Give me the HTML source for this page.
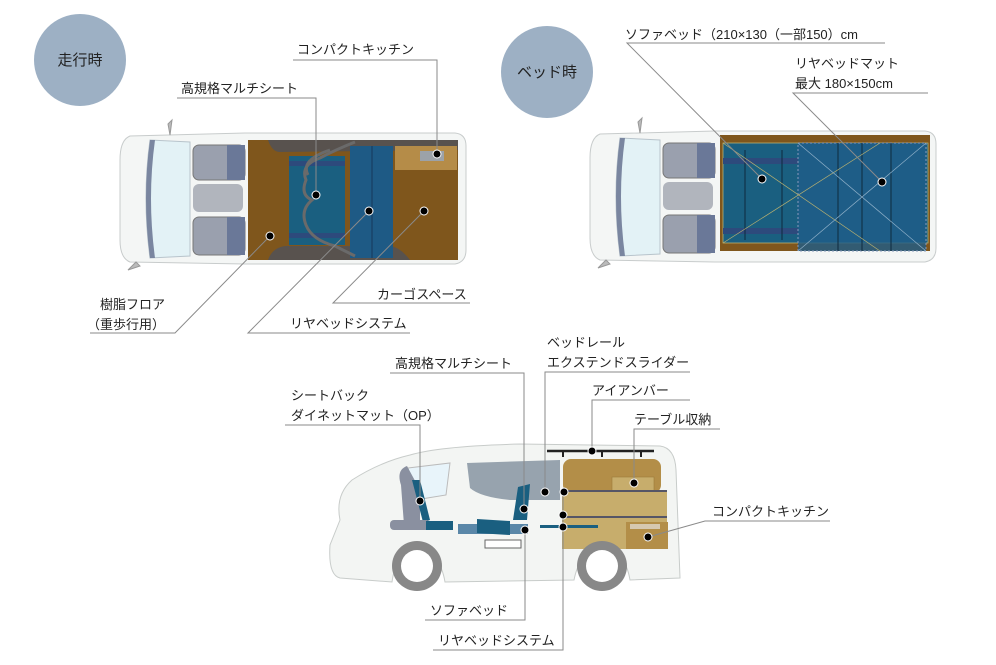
<!DOCTYPE html>
<html><head><meta charset="utf-8"><style>
body{margin:0;background:#fff}
svg{display:block}
text{font-family:"Liberation Sans","Noto Sans CJK JP",sans-serif;font-size:13px;fill:#222}
</style></head><body>
<svg width="996" height="665" viewBox="0 0 996 665" xmlns="http://www.w3.org/2000/svg">
<defs>
<g id="topvan">
  <path d="M130,136 Q120,140 120,160 L120,240 Q120,258 130,262 L245,264 L455,264 Q466,262 466,250 L466,146 Q466,134 455,133 L245,133 Z" fill="#f4f6f5" stroke="#c8cccc"/>
  <path d="M150,140 Q142,198 150,258 L190,256 L190,142 Z" fill="#e3f2f6" stroke="#b8c4cc"/>
  <path d="M150,140 Q142,198 150,258 L155,258 Q147,198 155,140Z" fill="#7a86a0"/>
  <rect x="193" y="145" width="52" height="35" rx="6" fill="#9aa0ae" stroke="#777"/>
  <rect x="227" y="145" width="18" height="35" fill="#6a7898"/>
  <rect x="193" y="184" width="50" height="28" rx="6" fill="#b1b5bd"/>
  <rect x="193" y="217" width="52" height="38" rx="6" fill="#9aa0ae" stroke="#777"/>
  <rect x="227" y="217" width="18" height="38" fill="#6a7898"/>
  <path d="M168,124 L172,120 L170,135Z" fill="#bbb" stroke="#999"/>
  <path d="M128,270 L136,262 L140,266Z" fill="#bbb" stroke="#999"/>
</g>
</defs>

<circle cx="80" cy="60" r="46" fill="#9db0c4"/>
<text x="80" y="65" text-anchor="middle" style="font-size:15px">走行時</text>
<circle cx="547" cy="72" r="46" fill="#9db0c4"/>
<text x="547" y="77" text-anchor="middle" style="font-size:15px">ベッド時</text>

<use href="#topvan"/>
<rect x="248" y="140" width="210" height="120" fill="#7f561c"/>
<path d="M268,140 L458,140 L458,150 L280,152 Q272,152 268,140Z" fill="#58524e"/>
<path d="M268,260 L410,260 Q400,247 390,246 L285,246 Q272,248 268,260Z" fill="#58524e"/>
<rect x="289" y="156" width="56" height="89" fill="#1a5f80"/>
<rect x="289" y="161" width="56" height="5" fill="#2d4a7c"/>
<rect x="289" y="233" width="56" height="5" fill="#2d4a7c"/>
<rect x="350" y="146" width="43" height="112" fill="#1e5a85"/>
<line x1="372" y1="146" x2="372" y2="258" stroke="#15385a"/>
<rect x="395" y="146" width="62" height="24" fill="#b58c48"/>
<rect x="420" y="151" width="24" height="10" fill="#9ca2a8"/>
<path d="M355,142 Q335,150 320,158 Q300,165 306,180 Q300,195 312,200 Q300,210 306,225 Q312,240 335,246 L355,256" fill="none" stroke="#6a6a6a" stroke-width="3"/>
<path d="M330,150 Q300,160 308,175" fill="none" stroke="#6a6a6a" stroke-width="3"/>

<use href="#topvan" transform="translate(470,-2)"/>
<rect x="720" y="135" width="210" height="116" fill="#7f561c"/>
<rect x="723" y="143" width="205" height="100" fill="#1a5f80" stroke="#b8b070" stroke-width="0.8"/>
<rect x="723" y="158" width="75" height="6" fill="#2d4a7c"/>
<rect x="723" y="228" width="75" height="6" fill="#2d4a7c"/>
<rect x="798" y="143" width="128" height="108" fill="#1f5d88" fill-opacity="0.8" stroke="#8899bb" stroke-dasharray="2,2"/>
<g stroke="#0d2a3e"><line x1="745" y1="150" x2="745" y2="240"/><line x1="782" y1="150" x2="782" y2="240"/><line x1="838" y1="143" x2="838" y2="251"/><line x1="862" y1="143" x2="862" y2="251"/><line x1="891" y1="143" x2="891" y2="251"/></g>
<g stroke="#b8b070" stroke-width="0.7"><line x1="723" y1="143" x2="880" y2="251"/><line x1="723" y1="243" x2="880" y2="143"/></g>
<g stroke="#8fb0c8" stroke-width="0.7"><line x1="798" y1="143" x2="926" y2="251"/><line x1="798" y1="251" x2="926" y2="143"/></g>

<path d="M340,520 Q335,495 352,480 Q380,462 410,455 Q440,446 520,444 L660,446 Q675,448 676,470 L680,578 L630,580 Q625,550 602,548 Q580,550 574,580 L445,582 Q440,552 417,550 Q396,552 392,582 L340,578 Q328,575 330,545 Z" fill="#f3f5f3" stroke="#c8ccca"/>
<path d="M467,463 L560,460 L560,500 L510,500 Q480,497 470,488Z" fill="#97a3ae"/>
<path d="M408,468 L450,463 L446,495 L415,500Z" fill="#e8f4fa" stroke="#bbb"/>
<rect x="563" y="459" width="98" height="34" rx="8" fill="#b38e48"/>
<rect x="562" y="491" width="105" height="58" fill="#c7ad6c"/>
<rect x="626" y="522" width="42" height="27" fill="#b38e48"/>
<rect x="630" y="524" width="30" height="5" fill="#d6c8b0"/>
<rect x="612" y="477" width="42" height="14" fill="#c7ad6c" stroke="#9a7a3a" stroke-width="0.6"/>
<line x1="563" y1="491" x2="667" y2="491" stroke="#556" stroke-width="2"/>
<line x1="563" y1="517" x2="667" y2="517" stroke="#556" stroke-width="2"/>
<line x1="547" y1="451" x2="654" y2="451" stroke="#222" stroke-width="2.5"/>
<g stroke="#222" stroke-width="2"><line x1="563" y1="451" x2="563" y2="457"/><line x1="602" y1="451" x2="602" y2="457"/><line x1="641" y1="451" x2="641" y2="457"/></g>
<path d="M401,485 Q396,470 407,466 L420,490 L420,525 L404,525Z" fill="#8a90a0"/>
<path d="M412,480 L420,480 L430,520 L423,522Z" fill="#1a5f80"/>
<rect x="390" y="520" width="40" height="10" rx="4" fill="#8a90a0"/>
<rect x="426" y="521" width="27" height="9" fill="#1a5f80"/>
<rect x="458" y="524" width="70" height="10" fill="#5a87a8"/>
<path d="M477,519 L510,521 L510,535 L477,533Z" fill="#1a5f80"/>
<path d="M518,487 L530,484 L527,520 L513,520Z" fill="#1a5f80"/>
<rect x="540" y="525" width="58" height="3" fill="#1a5f80"/>
<rect x="485" y="540" width="36" height="8" fill="#fff" stroke="#666"/>
<circle cx="417" cy="566" r="25" fill="#888"/><circle cx="417" cy="566" r="16" fill="#fff"/>
<circle cx="602" cy="566" r="25" fill="#888"/><circle cx="602" cy="566" r="16" fill="#fff"/>

<g stroke="#8a8a8a" stroke-width="1" fill="none">
<polyline points="293,60 437,60 437,154"/>
<polyline points="177,98 316,98 316,195"/>
<polyline points="90,333 175,333 270,236"/>
<polyline points="470,303 333,303 424,211"/>
<polyline points="410,333 248,333 369,211"/>
<polyline points="885,43 627,43 762,179"/>
<polyline points="928,93 793,93 882,182"/>
<polyline points="390,373 524,373 524,509"/>
<polyline points="690,372 545,372 545,492"/>
<polyline points="285,425 420,425 420,501"/>
<polyline points="690,400 592,400 592,451"/>
<polyline points="720,429 634,429 634,483"/>
<polyline points="830,521 705,521 648,537"/>
<polyline points="425,620 525,620 525,530"/>
<polyline points="433,650 563,650 563,492"/>
</g>
<g fill="#000" stroke="#fff" stroke-width="1">
<circle cx="437" cy="154" r="4"/><circle cx="316" cy="195" r="4"/><circle cx="270" cy="236" r="4"/>
<circle cx="424" cy="211" r="4"/><circle cx="369" cy="211" r="4"/>
<circle cx="762" cy="179" r="4"/><circle cx="882" cy="182" r="4"/>
<circle cx="524" cy="509" r="4"/><circle cx="545" cy="492" r="4"/><circle cx="564" cy="492" r="4"/>
<circle cx="420" cy="501" r="4"/><circle cx="592" cy="451" r="4"/><circle cx="634" cy="483" r="4"/>
<circle cx="648" cy="537" r="4"/><circle cx="525" cy="530" r="4"/><circle cx="563" cy="515" r="4"/><circle cx="563" cy="527" r="4"/>
</g>

<text x="297" y="54">コンパクトキッチン</text>
<text x="181" y="93">高規格マルチシート</text>
<text x="165" y="309" text-anchor="end">樹脂フロア</text>
<text x="165" y="329" text-anchor="end">（重歩行用）</text>
<text x="377" y="299">カーゴスペース</text>
<text x="290" y="328">リヤベッドシステム</text>
<text x="625" y="39">ソファベッド（210×130（一部150）cm</text>
<text x="795" y="68">リヤベッドマット</text>
<text x="795" y="88">最大 180×150cm</text>
<text x="395" y="368">高規格マルチシート</text>
<text x="547" y="347">ベッドレール</text>
<text x="547" y="367">エクステンドスライダー</text>
<text x="291" y="400">シートバック</text>
<text x="291" y="420">ダイネットマット（OP）</text>
<text x="592" y="395">アイアンバー</text>
<text x="634" y="424">テーブル収納</text>
<text x="712" y="516">コンパクトキッチン</text>
<text x="430" y="615">ソファベッド</text>
<text x="438" y="645">リヤベッドシステム</text>
</svg>
</body></html>
